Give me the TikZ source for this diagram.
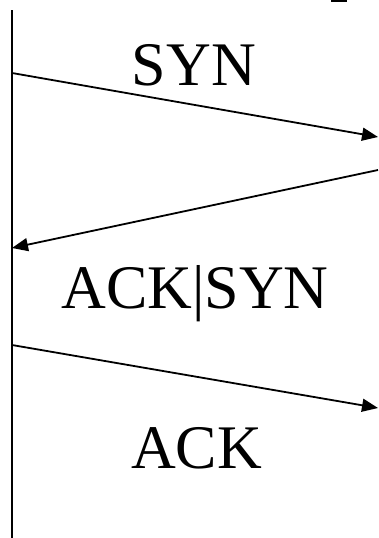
\documentclass[tikz,border=0pt]{standalone}
\usepackage{fontspec}
\setmainfont{Liberation Serif}
\usetikzlibrary{arrows.meta}
\begin{document}
\begin{tikzpicture}[x=1pt,y=-1pt,
  msg/.style={line width=1.8pt,-{Triangle[length=16pt,width=13pt]}},
  lbl/.style={anchor=base,inner sep=0pt,font=\fontsize{62}{62}\selectfont}]
\useasboundingbox (0,0) rectangle (378,538);
\coordinate (top) at (12,10);
\coordinate (bot) at (12,538);
\draw[line width=2pt] (top) -- (bot);
\coordinate (a1) at (12,73);
\coordinate (b1) at (378,137);
\coordinate (a2) at (378,170);
\coordinate (b2) at (12,248);
\coordinate (a3) at (12,345);
\coordinate (b3) at (378,408);
\draw[msg] (a1) -- (b1);
\draw[msg] (a2) -- (b2);
\draw[msg] (a3) -- (b3);
\node[lbl] (syn) at (194,85) {SYN};
\node[lbl] (acksyn) at (195,308) {ACK|SYN};
\node[lbl] (ack) at (196.5,468) {ACK};
\fill (331,0) rectangle (347,2);
\end{tikzpicture}
\end{document}
